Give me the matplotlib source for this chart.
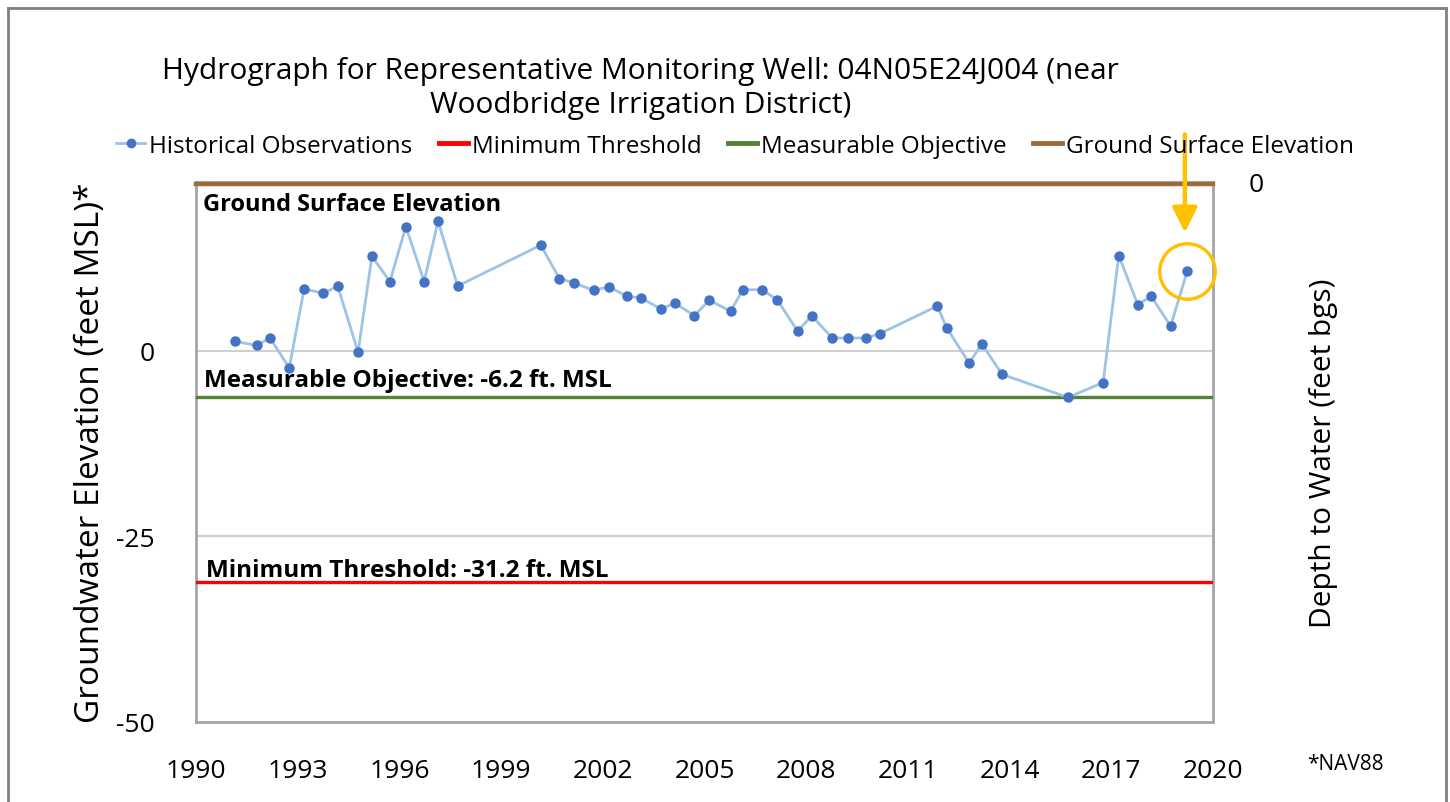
import matplotlib
matplotlib.use("Agg")
import matplotlib.pyplot as plt
from matplotlib.lines import Line2D

plt.rcParams['font.family'] = ['Open Sans', 'DejaVu Sans']
plt.rcParams['axes.unicode_minus'] = False

# observation dates (decimal years) and groundwater elevation (feet MSL)
obs_year = [1991.15, 1991.79, 1992.18, 1992.75, 1993.19, 1993.76, 1994.18, 1994.78,
            1995.19, 1995.72, 1996.19, 1996.73, 1997.14, 1997.72, 2000.17, 2000.72,
            2001.16, 2001.73, 2002.18, 2002.72, 2003.13, 2003.71, 2004.13, 2004.70,
            2005.14, 2005.77, 2006.13, 2006.70, 2007.15, 2007.75, 2008.16, 2008.77,
            2009.22, 2009.77, 2010.18, 2011.87, 2012.14, 2012.81, 2013.18, 2013.78,
            2015.72, 2016.76, 2017.22, 2017.78, 2018.18, 2018.75, 2019.24]
obs_elev = [1.25, 0.7, 1.7, -2.3, 8.3, 7.7, 8.7, -0.2,
            12.7, 9.3, 16.7, 9.3, 17.4, 8.7, 14.2, 9.7,
            9.1, 8.1, 8.6, 7.3, 7.1, 5.6, 6.4, 4.7,
            6.8, 5.3, 8.2, 8.2, 6.8, 2.6, 4.7, 1.7,
            1.7, 1.7, 2.3, 6.0, 3.1, -1.7, 0.9, -3.2,
            -6.3, -4.3, 12.8, 6.2, 7.3, 3.3, 10.7]

ground_surface = 22.4
measurable_objective = -6.2
minimum_threshold = -31.2

year_ticks = list(range(1990, 2021, 3))
elev_ticks = [-50, -25, 0]

fig = plt.figure(figsize=(14.5, 8.03), dpi=100)
ax = fig.add_axes([196/1450, 1-723/803, 1017/1450, 540/803])

ax.set_xlim(1990, 2020)
ax.set_ylim(-50, 22.7)

# gridlines only at labelled values
for v in elev_ticks[1:]:
    ax.axhline(v, color='#d0d0d0', lw=1.5, zorder=1)

ax.axhline(ground_surface, color='#9e6b3b', lw=3.2, zorder=3, clip_on=False)
ax.axhline(measurable_objective, color='#548235', lw=2.4, zorder=3)
ax.axhline(minimum_threshold, color='#ff0000', lw=2.4, zorder=3)

ax.plot(obs_year, obs_elev, color='#9dc3e6', lw=2, marker='o', ms=6.5,
        mfc='#4472c4', mec='#4472c4', zorder=4)

# highlight latest reading
ax.plot(obs_year[-1], obs_elev[-1], marker='o', ms=40, mfc='none', mec='#ffc000',
        mew=2.4, zorder=5, clip_on=False)
ax.annotate('', xy=(obs_year[-1] - 0.07, obs_elev[-1] + 5.2),
            xytext=(obs_year[-1] - 0.07, obs_elev[-1] + 18.4),
            arrowprops=dict(arrowstyle='-|>,head_length=1.5,head_width=0.75',
                            color='#ffc000', lw=3.2, shrinkA=0, shrinkB=0),
            annotation_clip=False, zorder=6)

ax.text(1990.2, ground_surface - 2.6, 'Ground Surface Elevation', fontsize=17,
        fontweight='bold', va='center', ha='left', zorder=5)
ax.text(1990.25, measurable_objective + 2.2, 'Measurable Objective: -6.2 ft. MSL',
        fontsize=17.5, fontweight='bold', va='center', ha='left', zorder=5)
ax.text(1990.3, minimum_threshold + 1.7, 'Minimum Threshold: -31.2 ft. MSL',
        fontsize=17.5, fontweight='bold', va='center', ha='left', zorder=5)

for s in ax.spines.values():
    s.set_color('#a6a6a6')
    s.set_linewidth(2)

ax.set_xticks(year_ticks)
ax.set_yticks(elev_ticks)
ax.tick_params(length=0, labelsize=19, pad=26)
ax.tick_params(axis='y', pad=30)
ax.set_ylabel('Groundwater Elevation (feet MSL)*', fontsize=24, labelpad=6)

# secondary axis: depth below ground surface
ax2 = ax.twinx()
ax2.set_ylim(0, ground_surface + 0.3 + 50)
ax2.invert_yaxis()
ax2.set_yticks([0])
ax2.tick_params(length=0, labelsize=19, pad=26)
for s in ax2.spines.values():
    s.set_visible(False)
ax2.set_ylabel('Depth to Water (feet bgs)', fontsize=21.5, labelpad=32)

fig.text(640/1450, 1-71/803, 'Hydrograph for Representative Monitoring Well: 04N05E24J004 (near',
         fontsize=21.5, ha='center', va='center')
fig.text(641/1450, 1-106/803, 'Woodbridge Irrigation District)',
         fontsize=21.5, ha='center', va='center')
fig.text(1345/1450, 1-765/803, '*NAV88', fontsize=15, ha='center', va='center')

handles = [
    Line2D([], [], color='#9dc3e6', lw=2, marker='o', ms=6, mfc='#4472c4', mec='#4472c4'),
    Line2D([], [], color='#ff0000', lw=3.5),
    Line2D([], [], color='#548235', lw=3.5),
    Line2D([], [], color='#9e6b3b', lw=3.5),
]
labels = ['Historical Observations', 'Minimum Threshold', 'Measurable Objective',
          'Ground Surface Elevation']
fig.legend(handles, labels, loc='center', bbox_to_anchor=(735/1450, 1-147/803), ncol=4,
           frameon=False, fontsize=17.5, handlelength=1.2, handletextpad=0.15,
           columnspacing=1.1)

# outer chart frame
frame_kw = dict(color='#808080', lw=2, transform=fig.transFigure)
fig.add_artist(Line2D([8/1450, 8/1450], [0, 1-9/803], **frame_kw))
fig.add_artist(Line2D([8/1450, 1446/1450], [1-9/803, 1-9/803], **frame_kw))
fig.add_artist(Line2D([1446/1450, 1446/1450], [0, 1-9/803], **frame_kw))

fig.savefig('out.png', dpi=100)
